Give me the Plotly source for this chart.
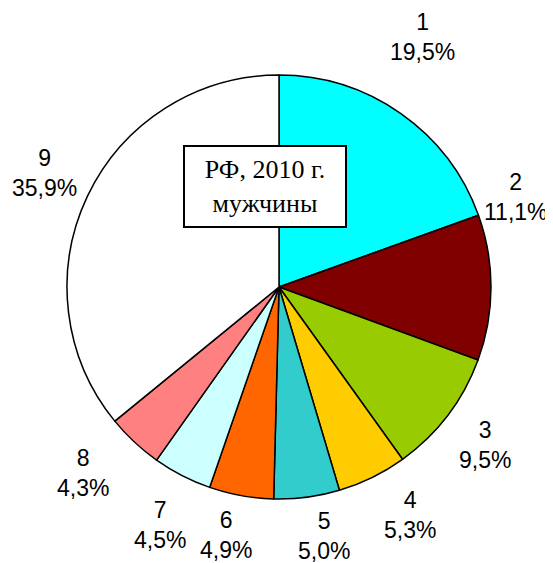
import plotly.graph_objects as go

categories = ["1", "2", "3", "4", "5", "6", "7", "8", "9"]
shares = [19.5, 11.1, 9.5, 5.3, 5.0, 4.9, 4.5, 4.3, 35.9]
colors = ["#00FFFF", "#800000", "#99CC00", "#FFCC00", "#33CCCC",
          "#FF6600", "#CCFFFF", "#FF8080", "#FFFFFF"]
title_lines = ["РФ, 2010 г.", "мужчины"]

W, H = 553, 563
OFF = 8  # page body margin
# label centres in window pixels (layout only)
label_px = [(422, 37), (516, 197), (485, 445), (410, 515), (324, 536),
            (226, 535), (160, 525), (83, 473), (44, 173)]

cx, cy, r = 279 - OFF, 287 - OFF, 212


def px2paper(px, py):
    return (px - OFF) / W, 1 - (py - OFF) / H


fig = go.Figure(go.Pie(
    labels=categories, values=shares, sort=False, direction="clockwise",
    rotation=0, textinfo="none", hoverinfo="label+percent",
    marker=dict(colors=colors, line=dict(color="black", width=1.5)),
    domain=dict(x=[(cx - r) / W, (cx + r) / W], y=[1 - (cy + r) / H, 1 - (cy - r) / H]),
    showlegend=False,
))

annotations = []
for cat, val, (px, py) in zip(categories, shares, label_px):
    x, y = px2paper(px, py)
    annotations.append(dict(
        x=x, y=y, xref="paper", yref="paper",
        text=f"{cat}<br>{val:.1f}%".replace(".", ","), showarrow=False,
        font=dict(family="Liberation Sans, Arial", size=23, color="black"),
        xanchor="center", yanchor="middle", align="center",
    ))

tx, ty = px2paper(265, 186)
annotations.append(dict(
    x=tx, y=ty, xref="paper", yref="paper",
    text="<br>".join(title_lines), showarrow=False,
    font=dict(family="Liberation Serif, Times New Roman", size=26, color="black"),
    xanchor="center", yanchor="middle", align="center",
    bgcolor="white", bordercolor="black", borderwidth=2, borderpad=8,
    width=144, height=63,
))

fig.update_layout(
    width=W, height=H, margin=dict(l=0, r=0, t=0, b=0),
    paper_bgcolor="white", plot_bgcolor="white",
    annotations=annotations,
)

fig.write_html("out.html")
